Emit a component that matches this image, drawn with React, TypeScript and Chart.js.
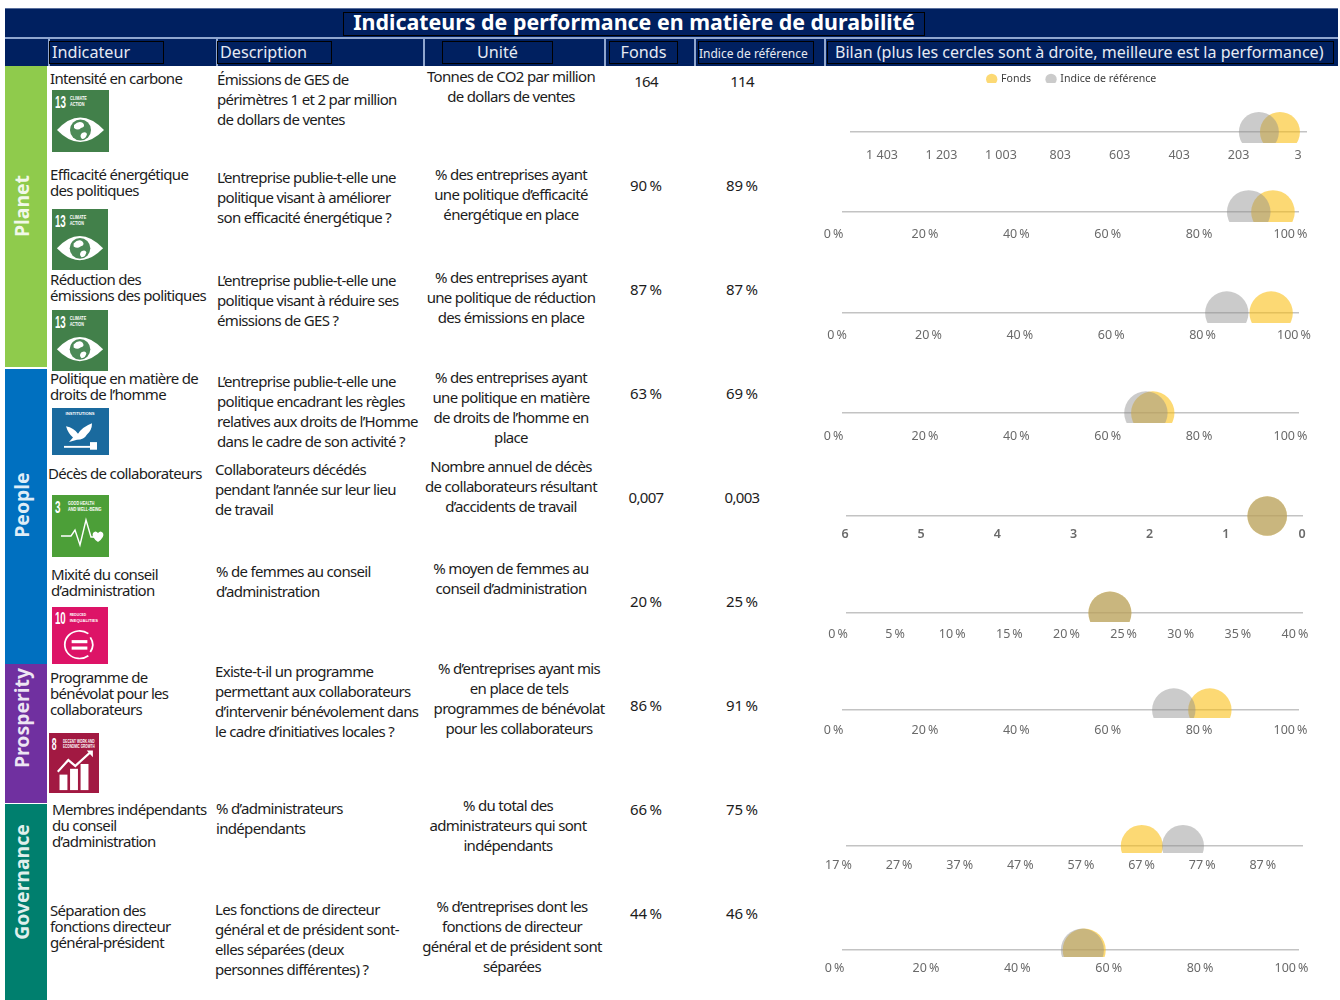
import React, { useEffect, useRef } from "react";
import { Chart, registerables } from "chart.js";

Chart.register(...registerables);

// ---- table content ----
const title = "Indicateurs de performance en matière de durabilité";
const columnHeads = ["Indicateur", "Description", "Unité", "Fonds", "Indice de référence", "Bilan (plus les cercles sont à droite, meilleure est la performance)"];
const pillars = ["Planet", "People", "Prosperity", "Governance"];

const indicators = [
  ["Intensité en carbone"],
  ["Efficacité énergétique", "des politiques"],
  ["Réduction des", "émissions des politiques"],
  ["Politique en matière de", "droits de l’homme"],
  ["Décès de collaborateurs"],
  ["Mixité du conseil", "d’administration"],
  ["Programme de", "bénévolat pour les", "collaborateurs"],
  ["Membres indépendants", "du conseil", "d’administration"],
  ["Séparation des", "fonctions directeur", "général-président"],
];
const descriptions = [
  ["Émissions de GES de", "périmètres 1 et 2 par million", "de dollars de ventes"],
  ["L’entreprise publie-t-elle une", "politique visant à améliorer", "son efficacité énergétique ?"],
  ["L’entreprise publie-t-elle une", "politique visant à réduire ses", "émissions de GES ?"],
  ["L’entreprise publie-t-elle une", "politique encadrant les règles", "relatives aux droits de l’Homme", "dans le cadre de son activité ?"],
  ["Collaborateurs décédés", "pendant l’année sur leur lieu", "de travail"],
  ["% de femmes au conseil", "d’administration"],
  ["Existe-t-il un programme", "permettant aux collaborateurs", "d’intervenir bénévolement dans", "le cadre d’initiatives locales ?"],
  ["% d’administrateurs", "indépendants"],
  ["Les fonctions de directeur", "général et de président sont-", "elles séparées (deux", "personnes différentes) ?"],
];
const units = [
  ["Tonnes de CO2 par million", "de dollars de ventes"],
  ["% des entreprises ayant", "une politique d’efficacité", "énergétique en place"],
  ["% des entreprises ayant", "une politique de réduction", "des émissions en place"],
  ["% des entreprises ayant", "une politique en matière", "de droits de l’homme en", "place"],
  ["Nombre annuel de décès", "de collaborateurs résultant", "d’accidents de travail"],
  ["% moyen de femmes au", "conseil d’administration"],
  ["% d’entreprises ayant mis", "en place de tels", "programmes de bénévolat", "pour les collaborateurs"],
  ["% du total des", "administrateurs qui sont", "indépendants"],
  ["% d’entreprises dont les", "fonctions de directeur", "général et de président sont", "séparées"],
];
const fundCells = ["164", "90\u202F%", "87\u202F%", "63\u202F%", "0,007", "20\u202F%", "86\u202F%", "66\u202F%", "44\u202F%"];
const benchmarkCells = ["114", "89\u202F%", "87\u202F%", "69\u202F%", "0,003", "25\u202F%", "91\u202F%", "75\u202F%", "46\u202F%"];

// ---- circle positions, each read on its own row axis ----
const fundMarks = [94, 94.3, 93.9, 68, 0.47, 23.1, 80.5, 65.8, 53];
const benchmarkMarks = [165, 89, 84.2, 66.5, 0.47, 23.1, 72.6, 72.6, 52.6];

// ---- row axes ----
const axisMin = [3, 0, 0, 0, 0, 0, 0, 17, 0];
const axisMax = [1541, 100, 100, 100, 6, 40, 100, 92.4, 100];
const axisReversed = [true, false, false, false, true, false, false, false, false];
const percentTicks = [0, 20, 40, 60, 80, 100];
const tickValues = [
  [1403, 1203, 1003, 803, 603, 403, 203, 3],
  percentTicks,
  percentTicks,
  percentTicks,
  [6, 5, 4, 3, 2, 1, 0],
  [0, 5, 10, 15, 20, 25, 30, 35, 40],
  percentTicks,
  [17, 27, 37, 47, 57, 67, 77, 87],
  percentTicks,
];
const tickSuffix = ["", "\u202F%", "\u202F%", "\u202F%", "", "\u202F%", "\u202F%", "\u202F%", "\u202F%"];

// ---- row layout ----
const lineY = [132, 212, 313, 413, 516, 613, 710, 846, 950];
const clipY = [143, 222, 323, 423, 525, 622, 718, 853, 957];
const labelY = [154, 233, 334, 435, 533, 633, 729, 864, 967];
const circlesClipped = [true, true, true, true, false, true, true, true, true];
const lineLeft = [850, 842, 842, 842, 846, 846, 842, 846, 842];
const lineRight = [1307, 1299, 1299, 1299, 1303, 1303, 1299, 1303, 1299];
const labelShift = [-9, -8.5, -5, -8.5, -1, -8, -8.5, -7.5, -7.5];
const radii = [20, 21.8, 21.7, 21.7, 19.8, 21.5, 21.7, 21, 21.5];

const indicatorX = [50, 50, 50, 50, 48, 51, 50, 52, 50];
const indicatorY = [78, 174, 279, 378, 473, 574, 677, 809, 910];
const descriptionX = [217, 217, 217, 217, 215, 216, 215, 216, 215];
const descriptionY = [79, 177, 280, 381, 469, 571, 671, 808, 909];
const unitCx = [511, 511, 511, 511, 511, 511, 519, 508, 512];
const unitY = [76, 174, 277, 377, 466, 568, 668, 805, 906];
const valueY = [81, 185, 289, 393, 497, 601, 705, 809, 913];

const CANVAS_LEFT = 810;
const CANVAS_RIGHT = 1338;
const ABOVE_LINE = 24;
const LABEL_ROOM = 24;

const FUND_FILL = "rgba(250,191,23,0.6)";
const BENCH_FILL = "rgba(140,140,140,0.45)";
const NAVY = "#002060";
const RULE = "#8FA6CF";
const FONT = "'Noto Sans', sans-serif";

const abs = (left: number, top: number, width: number, height: number, extra: React.CSSProperties = {}): React.CSSProperties => ({
  position: "absolute", left, top, width, height, boxSizing: "border-box", ...extra,
});

function Lines({ lines, x, y, step, center }: { lines: string[]; x: number; y: number; step: number; center?: boolean }) {
  return (
    <>
      {lines.map((line, i) => (
        <div
          key={i}
          style={{
            position: "absolute",
            left: center ? x - 150 : x,
            width: center ? 300 : undefined,
            top: y + i * step - 11,
            height: 22,
            lineHeight: "22px",
            textAlign: center ? "center" : "left",
            whiteSpace: "nowrap",
            fontSize: 15,
            letterSpacing: "-0.68px",
            color: "#1c1c1c",
          }}
        >
          {line}
        </div>
      ))}
    </>
  );
}

function Badge({ box, fill, num, caption, children }: { box: number[]; fill: string; num: string; caption: string[]; children: React.ReactNode }) {
  const [l, t, w, h] = box;
  return (
    <svg style={{ position: "absolute", left: l, top: t }} width={w} height={h} viewBox="0 0 57 62" preserveAspectRatio="none">
      <rect width="57" height="62" fill={fill} />
      {num && (
        <text x="3" y="18" fill="#fff" fontFamily="'Liberation Sans Narrow', 'Liberation Sans', sans-serif" fontSize="17" fontWeight="700" textLength={num.length * 5.5} lengthAdjust="spacingAndGlyphs">{num}</text>
      )}
      {caption.map((c, i) => (
        <text key={i} x={num.length > 1 ? 18 : 16} y={10 + i * 6} fill="#fff" fontFamily="'Liberation Sans', sans-serif" fontSize="4.6" fontWeight="700" textLength={c.length * 2.4} lengthAdjust="spacingAndGlyphs">{c}</text>
      ))}
      {children}
    </svg>
  );
}

function ClimateEye({ box }: { box: number[] }) {
  return (
    <Badge box={box} fill="#42804A" num="13" caption={["CLIMATE", "ACTION"]}>
      <path d="M5 40 Q28 15 52 40 Q28 64 5 40Z" fill="#fff" />
      <circle cx="28.5" cy="40" r="10.5" fill="#4D8A58" />
      <path d="M22 35 q5 -5 9 -2 q3 4 -2 5 q-3 3 -7 0Z M30 43 q4 -2 5 1 q-1 5 -5 5 q-3 -3 0 -6Z" fill="#fff" />
    </Badge>
  );
}

function PeaceDove({ box }: { box: number[] }) {
  return (
    <Badge box={box} fill="#1A6A9E" num="" caption={[]}>
      <text x="28" y="9" textAnchor="middle" fill="#fff" fontFamily="'Liberation Sans', sans-serif" fontSize="5.5" fontWeight="700" textLength="29" lengthAdjust="spacingAndGlyphs">INSTITUTIONS</text>
      <path d="M14 24 q8 2 12 10 q4 -9 14 -14 q0 9 -5 15 q-3 7 -10 7 l-8 3 l4 -6 q-5 -6 -7 -15Z" fill="#fff" />
      <rect x="12" y="50" width="30" height="2.5" fill="#fff" />
      <rect x="38" y="45" width="7" height="10" fill="#fff" />
    </Badge>
  );
}

function HealthPulse({ box }: { box: number[] }) {
  return (
    <Badge box={box} fill="#4C9F38" num="3" caption={["GOOD HEALTH", "AND WELL-BEING"]}>
      <path d="M9 41 H19 L23 35 L28 50 L34 25 L39 42 H42" fill="none" stroke="#fff" strokeWidth="1.4" />
      <path d="M46 47 q-7 -5 -5 -9 q2.5 -3 5 0 q2.5 -3 5 0 q2 4 -5 9Z" fill="#fff" />
    </Badge>
  );
}

function ReducedInequality({ box }: { box: number[] }) {
  return (
    <Badge box={box} fill="#DD1367" num="10" caption={["REDUCED", "INEQUALITIES"]}>
      <path d="M37 30 A15 15 0 1 0 37 54" fill="none" stroke="#fff" strokeWidth="1.8" transform="translate(0,-1)" />
      <path d="M41 34 A15 15 0 0 1 41 50" fill="none" stroke="#fff" strokeWidth="1.8" transform="translate(-2,-1)" />
      <rect x="20" y="36" width="16" height="3.4" fill="#fff" />
      <rect x="20" y="43" width="16" height="3.4" fill="#fff" />
    </Badge>
  );
}

function DecentWork({ box }: { box: number[] }) {
  return (
    <Badge box={box} fill="#A21942" num="8" caption={["DECENT WORK AND", "ECONOMIC GROWTH"]}>
      <path d="M10 40 L22 28 L30 34 L47 20" fill="none" stroke="#fff" strokeWidth="2.4" />
      <path d="M43 18 H50 V25Z" fill="#fff" />
      <rect x="12" y="43" width="9" height="16" fill="#fff" />
      <rect x="24" y="37" width="9" height="22" fill="#fff" />
      <rect x="36" y="32" width="9" height="27" fill="#fff" />
    </Badge>
  );
}

export default function App() {
  const rowCanvases = useRef<(HTMLCanvasElement | null)[]>([]);
  const legendCanvas = useRef<HTMLCanvasElement | null>(null);

  useEffect(() => {
    const charts: Chart[] = [];

    lineY.forEach((line, i) => {
      const canvas = rowCanvases.current[i];
      if (!canvas) return;
      const suffix = tickSuffix[i];
      const clip = circlesClipped[i] ? 0 : false;
      charts.push(
        new Chart(canvas, {
          type: "bubble",
          data: {
            datasets: [
              { label: "Indice de référence", data: [{ x: benchmarkMarks[i], y: 0, r: radii[i] }], backgroundColor: BENCH_FILL, borderWidth: 0, hoverBorderWidth: 0, clip },
              { label: "Fonds", data: [{ x: fundMarks[i], y: 0, r: radii[i] }], backgroundColor: FUND_FILL, borderWidth: 0, hoverBorderWidth: 0, clip },
            ],
          },
          options: {
            animation: false,
            responsive: false,
            events: [],
            layout: {
              autoPadding: false,
              padding: { left: lineLeft[i] - CANVAS_LEFT, right: CANVAS_RIGHT - lineRight[i], top: 2, bottom: 0 },
            },
            plugins: { legend: { display: false }, tooltip: { enabled: false } },
            scales: {
              x: {
                type: "linear",
                min: axisMin[i],
                max: axisMax[i],
                reverse: axisReversed[i],
                border: { display: false },
                grid: { display: false, drawTicks: false },
                afterBuildTicks: (scale: any) => {
                  scale.ticks = tickValues[i].map((value) => ({ value }));
                },
                afterFit: (scale: any) => {
                  scale.height = LABEL_ROOM;
                },
                ticks: {
                  autoSkip: false,
                  maxRotation: 0,
                  minRotation: 0,
                  padding: labelY[i] - clipY[i] - 6.4,
                  labelOffset: labelShift[i],
                  color: "#6a6a6a",
                  font: { family: FONT, size: 12.5, weight: i === 4 ? "600" : "400" },
                  callback: (value: any) => `${String(value).replace(/\B(?=(\d{3})+$)/, "\u00A0")}${suffix}`,
                },
              },
              y: {
                type: "linear",
                min: line - clipY[i],
                max: ABOVE_LINE,
                bounds: "data",
                border: { display: false },
                grid: { color: "rgba(180,180,180,0.8)", lineWidth: 1.6, drawTicks: false },
                afterBuildTicks: (scale: any) => {
                  scale.ticks = [{ value: 0 }];
                },
                afterFit: (scale: any) => {
                  scale.width = 0;
                },
                ticks: { display: false },
              },
            },
          } as any,
        })
      );
    });

    if (legendCanvas.current) {
      charts.push(
        new Chart(legendCanvas.current, {
          type: "bubble",
          data: {
            datasets: [
              { label: "Fonds", data: [], backgroundColor: FUND_FILL, borderWidth: 0 },
              { label: "Indice de référence", data: [], backgroundColor: BENCH_FILL, borderWidth: 0 },
            ],
          },
          options: {
            animation: false,
            responsive: false,
            events: [],
            scales: { x: { display: false }, y: { display: false } },
            plugins: {
              tooltip: { enabled: false },
              legend: {
                position: "top",
                labels: {
                  usePointStyle: true,
                  pointStyle: "circle",
                  boxWidth: 8,
                  boxHeight: 8,
                  padding: 16,
                  color: "#3c3c3c",
                  font: { family: FONT, size: 10.6 },
                },
              },
            },
          } as any,
        })
      );
    }

    return () => charts.forEach((c) => c.destroy());
  }, []);

  const headBoxes = [
    [49, 41, 115, 23, 2, "left", 16.2, 20],
    [217, 41, 115, 23, 2, "left", 16.2, 20],
    [442, 41, 111, 23, 0, "center", 16.2, 20],
    [609, 41, 69, 23, 0, "center", 16.2, 20],
    [698, 41, 116, 23, 0, "left", 12, 23],
    [827, 41, 507, 23, 7, "left", 16.05, 20],
  ] as const;

  return (
    <div style={abs(0, 0, 1340, 1000, { background: "#fff", overflow: "hidden", fontFamily: FONT })}>
      {/* title band */}
      <div style={abs(5, 8, 1333, 29, { background: NAVY, borderTop: "1px solid #5a6f9c" })} />
      <div
        style={abs(343, 12, 582, 24, {
          border: "1.5px solid #000", color: "#fff", fontWeight: 700, fontSize: 21.4,
          lineHeight: "17px", textAlign: "center", whiteSpace: "nowrap",
        })}
      >
        {title}
      </div>

      {/* column header band */}
      <div style={abs(5, 37, 1333, 29, { background: NAVY, borderTop: `2px solid ${RULE}` })} />
      {[48, 216, 423, 604, 694, 824].map((x) => (
        <div key={x} style={abs(x, 38, 2, 28, { background: RULE })} />
      ))}
      {columnHeads.map((h, i) => {
        const [l, t, w, hh, pad, align, size, leading] = headBoxes[i];
        return (
          <div
            key={h}
            style={abs(l, t, w, hh, {
              border: "1.5px solid #000", color: "#E6EAF3", fontSize: size, lineHeight: `${leading}px`,
              paddingLeft: pad, textAlign: align, whiteSpace: "nowrap",
            })}
          >
            {h}
          </div>
        );
      })}

      {/* pillar bands */}
      {[
        [66, 301, "#8FCB4C", 206],
        [369, 295, "#0070C0", 505],
        [664, 139, "#7030A0", 718],
        [804, 196, "#007F6E", 882],
      ].map(([top, height, color, cy], i) => (
        <div key={i}>
          <div style={abs(5, top as number, 42, height as number, { background: color as string })} />
          <div
            style={{
              position: "absolute", left: 22 - 80, top: (cy as number) - 14, width: 160, height: 28, lineHeight: "28px",
              textAlign: "center", transform: "rotate(-90deg)", color: "rgba(255,255,255,0.88)",
              fontWeight: 700, fontSize: 19.4, whiteSpace: "nowrap",
            }}
          >
            {pillars[i]}
          </div>
        </div>
      ))}

      {/* text columns */}
      {indicators.map((lines, i) => (
        <Lines key={i} lines={lines} x={indicatorX[i]} y={indicatorY[i]} step={16} />
      ))}
      {descriptions.map((lines, i) => (
        <Lines key={i} lines={lines} x={descriptionX[i]} y={descriptionY[i]} step={20} />
      ))}
      {units.map((lines, i) => (
        <Lines key={i} lines={lines} x={unitCx[i]} y={unitY[i]} step={20} center />
      ))}
      {fundCells.map((v, i) => (
        <Lines key={i} lines={[v]} x={646} y={valueY[i]} step={20} center />
      ))}
      {benchmarkCells.map((v, i) => (
        <Lines key={i} lines={[v]} x={742} y={valueY[i]} step={20} center />
      ))}

      {/* goal badges */}
      <ClimateEye box={[52, 90, 57, 62]} />
      <ClimateEye box={[52, 209, 56, 61]} />
      <ClimateEye box={[52, 310, 56, 61]} />
      <PeaceDove box={[52, 408, 57, 47]} />
      <HealthPulse box={[52, 495, 57, 62]} />
      <ReducedInequality box={[52, 607, 56, 57]} />
      <DecentWork box={[49, 733, 50, 60]} />

      {/* row charts */}
      {lineY.map((line, i) => {
        const top = line - ABOVE_LINE - 2;
        return (
          <canvas
            key={i}
            ref={(el) => {
              rowCanvases.current[i] = el;
            }}
            width={CANVAS_RIGHT - CANVAS_LEFT}
            height={clipY[i] - top + LABEL_ROOM}
            style={{ position: "absolute", left: CANVAS_LEFT, top, display: "block" }}
          />
        );
      })}
      <canvas
        ref={legendCanvas}
        width={300}
        height={50}
        style={{ position: "absolute", left: 922, top: 58, display: "block" }}
      />
    </div>
  );
}
